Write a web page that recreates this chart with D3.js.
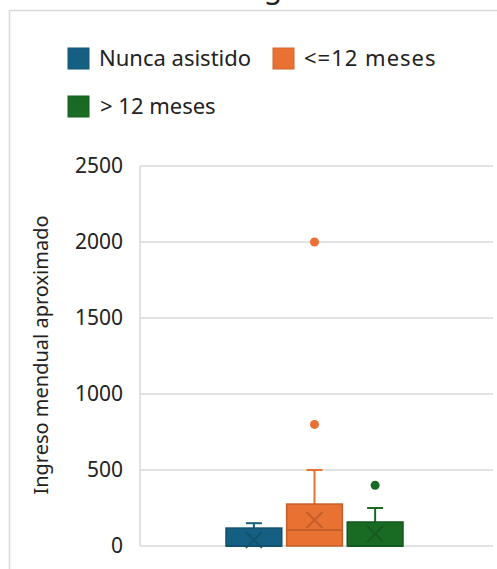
<!DOCTYPE html>
<html lang="es">
<head>
  <meta charset="UTF-8">
  <title>Ingreso mensual aproximado</title>
  <script src="https://d3js.org/d3.v7.min.js"></script>
  <style>
    body { margin: 0; background: #fff; }
    text { font-family: "Noto Sans", "Open Sans", sans-serif; fill: #222; }
  </style>
</head>
<body>
<script>
// data
const categories = ["Nunca asistido", "<=12 meses", "> 12 meses"];
const colors = ["#156082", "#E97132", "#196B24"];
const lowWhisker = [0, 0, 0];
const q1 = [0, 0, 0];
const medians = [0, 105, 0];
const q3 = [118, 276, 158];
const highWhisker = [150, 500, 250];
const means = [40, 171, 79];
const outliers = [[], [800, 2000], [400]];
const yTicks = [0, 500, 1000, 1500, 2000, 2500];

const width = 497, height = 569;

const svg = d3.select("body").append("svg")
  .attr("width", width)
  .attr("height", height);

// chart frame (cut off on the right and bottom)
svg.append("rect")
  .attr("x", 9.5).attr("y", 10.5)
  .attr("width", 520).attr("height", 600)
  .attr("fill", "#fff")
  .attr("stroke", "#d9d9d9")
  .attr("stroke-width", 1.5);

// title, only the descender shows
svg.append("text")
  .attr("x", 273).attr("y", -2)
  .attr("text-anchor", "middle")
  .style("font-size", "30px")
  .text("g");

const y = d3.scaleLinear().domain([0, 2500]).range([546, 166]);
const x = d3.scaleBand().domain(categories).range([226, 403]).paddingInner(0.08);
const plotLeft = 140, plotRight = 493;

// gridlines
svg.append("g").selectAll("line")
  .data(yTicks)
  .join("line")
  .attr("x1", plotLeft).attr("x2", plotRight)
  .attr("y1", d => y(d)).attr("y2", d => y(d))
  .attr("stroke", "#d9d9d9")
  .attr("stroke-width", 1.5);

svg.append("line")
  .attr("x1", plotLeft).attr("x2", plotLeft)
  .attr("y1", y(2500)).attr("y2", y(0))
  .attr("stroke", "#d9d9d9")
  .attr("stroke-width", 1.5);

// tick labels
svg.append("g").selectAll("text")
  .data(yTicks)
  .join("text")
  .attr("x", 123)
  .attr("y", d => y(d))
  .attr("dy", "0.35em")
  .attr("text-anchor", "end")
  .style("font-size", "21px")
  .text(d => d);

// axis title
svg.append("text")
  .attr("transform", "translate(48,355) rotate(-90)")
  .attr("text-anchor", "middle")
  .style("font-size", "20px")
  .text("Ingreso mendual aproximado");

// boxes
const groups = svg.append("g").selectAll("g")
  .data(categories)
  .join("g");

groups.each(function(cat, i) {
  const g = d3.select(this);
  const c = colors[i];
  const dark = d3.color(c).darker(0.5).formatHex();
  const x0 = x(cat), bw = x.bandwidth(), cx = x0 + bw / 2;

  // whiskers
  g.append("line")
    .attr("x1", cx).attr("x2", cx)
    .attr("y1", y(q3[i])).attr("y2", y(highWhisker[i]))
    .attr("stroke", c).attr("stroke-width", 2);
  g.append("line")
    .attr("x1", cx - 8).attr("x2", cx + 8)
    .attr("y1", y(highWhisker[i])).attr("y2", y(highWhisker[i]))
    .attr("stroke", c).attr("stroke-width", 2);
  g.append("line")
    .attr("x1", cx).attr("x2", cx)
    .attr("y1", y(q1[i])).attr("y2", y(lowWhisker[i]))
    .attr("stroke", c).attr("stroke-width", 2);

  g.append("rect")
    .attr("x", x0).attr("y", y(q3[i]))
    .attr("width", bw).attr("height", y(q1[i]) - y(q3[i]))
    .attr("fill", c)
    .attr("stroke", dark)
    .attr("stroke-width", 1.5);

  g.append("line")
    .attr("x1", x0).attr("x2", x0 + bw)
    .attr("y1", y(medians[i])).attr("y2", y(medians[i]))
    .attr("stroke", dark).attr("stroke-width", 2);

  // mean marker
  const my = y(means[i]), s = 8;
  g.append("path")
    .attr("d", `M${cx - s},${my - s}L${cx + s},${my + s}M${cx - s},${my + s}L${cx + s},${my - s}`)
    .attr("stroke", dark).attr("stroke-width", 1.8);

  g.selectAll("circle")
    .data(outliers[i])
    .join("circle")
    .attr("cx", cx).attr("cy", d => y(d))
    .attr("r", 4.5)
    .attr("fill", c);
});

// legend
const legendItems = [
  { x: 68, y: 48 },
  { x: 273, y: 48 },
  { x: 68, y: 96 }
];
const legend = svg.append("g").selectAll("g")
  .data(categories)
  .join("g")
  .attr("transform", (d, i) => `translate(${legendItems[i].x},${legendItems[i].y})`);

legend.append("rect")
  .attr("width", 21).attr("height", 21)
  .attr("fill", (d, i) => colors[i])
  .attr("stroke", (d, i) => d3.color(colors[i]).darker(0.3))
  .attr("stroke-width", 1);

legend.append("text")
  .attr("x", (d, i) => i === 2 ? 32 : 31)
  .attr("y", 10.5)
  .attr("dy", "0.35em")
  .style("font-size", "22px")
  .style("letter-spacing", (d, i) => i === 1 ? "1px" : null)
  .text(d => d);
</script>
</body>
</html>
